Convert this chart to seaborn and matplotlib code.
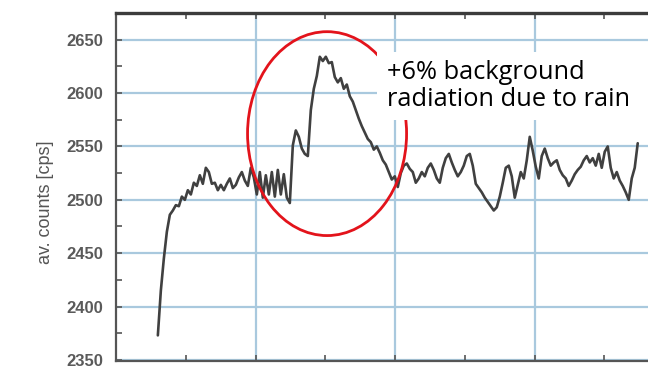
import numpy as np
import pandas as pd
import matplotlib
matplotlib.use("Agg")
import matplotlib.pyplot as plt
from matplotlib.patches import Ellipse, Rectangle
import seaborn as sns

# ---- data ----
t_start, t_end = 0.30, 3.74          # time span of the record (grid units)
counts = [
    2373, 2415, 2445, 2470, 2486, 2490, 2495, 2494, 2503, 2500,
    2509, 2505, 2516, 2513, 2523, 2515, 2530, 2526, 2515, 2516,
    2509, 2514, 2509, 2515, 2520, 2511, 2514, 2521, 2526, 2518,
    2513, 2530, 2521, 2505, 2526, 2502, 2523, 2505, 2526, 2503,
    2528, 2505, 2524, 2502, 2497, 2551, 2565, 2559, 2548, 2543,
    2541, 2584, 2604, 2616, 2634, 2630, 2634, 2628, 2629, 2615,
    2610, 2614, 2604, 2608, 2597, 2592, 2584, 2576, 2569, 2563,
    2557, 2554, 2547, 2550, 2544, 2537, 2533, 2526, 2519, 2522,
    2512, 2525, 2532, 2534, 2529, 2526, 2516, 2520, 2526, 2522,
    2530, 2534, 2528, 2520, 2516, 2530, 2539, 2543, 2535, 2528,
    2522, 2526, 2532, 2541, 2543, 2532, 2515, 2511, 2507, 2502,
    2498, 2494, 2490, 2493, 2503, 2516, 2530, 2532, 2522, 2502,
    2514, 2526, 2520, 2537, 2559, 2546, 2531, 2520, 2541, 2548,
    2539, 2532, 2535, 2537, 2528, 2523, 2520, 2513, 2518, 2524,
    2528, 2531, 2537, 2541, 2535, 2539, 2532, 2543, 2530, 2545,
    2550, 2530, 2520, 2526, 2518, 2513, 2507, 2500, 2520, 2530,
    2553,
]
y_ticks = [2350, 2400, 2450, 2500, 2550, 2600, 2650]
y_label = "av. counts [cps]"
note = "+6% background\nradiation due to rain"
# annotation ellipse: centre (time, counts), width (time), height (counts)
ell_center = (1.513, 2562)
ell_width, ell_height = 1.14, 191

time = np.linspace(t_start, t_end, len(counts))
df = pd.DataFrame({"time": time, "counts": counts})

# ---- figure ----
sns.set_theme(style="white")
plt.rcParams["font.family"] = ["Liberation Sans", "DejaVu Sans"]

fig = plt.figure(figsize=(6.48, 3.67), dpi=100)
ax = fig.add_axes([116 / 648, 1 - 361 / 367, 1 - 116 / 648, (361 - 13) / 367])

grid_c = "#a9c9de"
for yv in y_ticks:
    ax.axhline(yv, color=grid_c, lw=1.6, zorder=0)
for xv in [1, 2, 3]:
    ax.axvline(xv, color=grid_c, lw=1.6, zorder=0)

sns.lineplot(data=df, x="time", y="counts", ax=ax, color="#404040", lw=1.9,
             zorder=3)

ax.set_xlim(0, 532 / 139.5)
ax.set_ylim(2349, 2675)
ax.set_yticks(y_ticks)
ax.set_yticks(np.arange(2350, 2676, 25), minor=True)
ax.set_xticks([0, 1, 2, 3])
ax.set_xticks(np.arange(0, 4, 0.5), minor=True)
ax.set_xticklabels([])
ax.set_xlabel("")
ax.set_ylabel("")
ax.tick_params(axis="y", which="both", direction="in", left=True, length=4,
               width=1.2, color="#555555", labelsize=12, labelcolor="#5a5a5a",
               pad=9)
ax.tick_params(axis="x", which="both", direction="in", bottom=True, top=True,
               length=4, width=1.2, color="#555555")
for lab in ax.get_yticklabels():
    lab.set_fontweight("bold")

for side in ["left", "bottom"]:
    ax.spines[side].set_color("#555555")
    ax.spines[side].set_linewidth(1.6)
ax.spines["top"].set_color("#3c3c3c")
ax.spines["top"].set_linewidth(2.4)
ax.spines["right"].set_visible(False)

fig.text(45 / 648, 1 - 202 / 367, y_label, rotation=90, ha="center",
         va="center", fontsize=13, color="#555555")

ax.add_patch(Ellipse(ell_center, ell_width, ell_height, fill=False,
                     edgecolor="#e3131b", lw=2.0, zorder=5))

fig.patches.append(Rectangle((377 / 648, 1 - 120 / 367), 1 - 377 / 648,
                             68 / 367, transform=fig.transFigure,
                             facecolor="white", edgecolor="none", zorder=6))
fig.text(387 / 648, 1 - 86 / 367, note, ha="left", va="center",
         fontsize=18.3, family=["Open Sans", "DejaVu Sans"], color="black",
         linespacing=1.15, zorder=7)

fig.savefig("out.png", dpi=100)
